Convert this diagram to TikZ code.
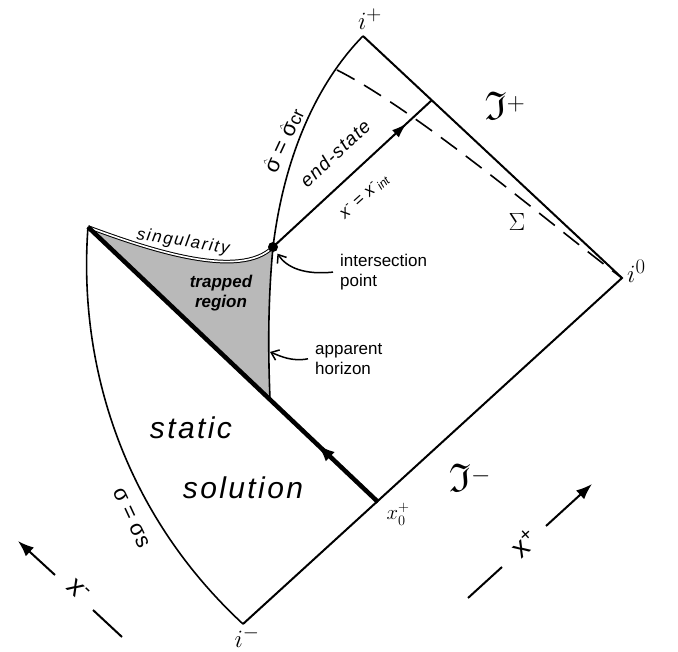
\documentclass[tikz,border=0pt]{standalone}
\usepackage{amsmath,amssymb}
\usepackage{fontspec}
\setmainfont{Liberation Sans}
\usetikzlibrary{arrows.meta, decorations.markings}

\begin{document}
\begin{tikzpicture}[x=1pt, y=-1pt,
    bd/.style={line width=2pt},
    crv/.style={line width=1.6pt},
    lbl/.style={font=\fontsize{17}{20}\selectfont, align=left, inner sep=0pt},
    mth/.style={font=\fontsize{28}{30}\selectfont, inner sep=0pt},
    big/.style={font=\fontsize{30}{34}\selectfont\itshape\addfontfeature{LetterSpace=8}, inner sep=0pt},
    sig/.style={font=\fontsize{22}{26}\selectfont, inner sep=0pt},
    ptr/.style={-{Straight Barb[length=7pt,width=11pt]}, line width=1.5pt},
    axr/.style={-{Latex[length=16pt,width=12pt]}, line width=2pt},
    >=Latex
]
\useasboundingbox (0,0) rectangle (678,652);

% corners of the diagram
\coordinate (ip) at (363,36);
\coordinate (io) at (622,278);
\coordinate (im) at (243,624);
\coordinate (xo) at (378,502);
\coordinate (tip) at (88,227);
\coordinate (int) at (273,247);
\coordinate (hz) at (270,399);
\coordinate (hzm) at (270,352);
\coordinate (xe) at (432,100);
\coordinate (sg) at (337,70);

% trapped region
\fill[gray!55] (tip) .. controls (150,250) and (240,280) .. (int)
    .. controls (268,300) and (268,350) .. (hz) -- cycle;

% boundaries
\draw[bd, line join=miter] (ip) -- (io) -- (im);
\draw[crv] (tip) .. controls (78,360) and (120,510) .. (im);
\draw[crv] (int) .. controls (285,150) and (320,80) .. (ip);
\draw[crv] (int) .. controls (268,300) and (268,350) .. (hz);
\draw[line width=1pt, double, double distance=1.6pt] (tip) .. controls (150,250) and (240,280) .. (int);
\draw[line width=4.5pt, postaction={decorate},
    decoration={markings, mark=at position 0.21 with {\arrow{Latex[length=18pt,width=13pt]}}}] (xo) -- (tip);
\draw[bd, postaction={decorate},
    decoration={markings, mark=at position 0.84 with {\arrow{Latex[length=15pt,width=10pt]}}}] (int) -- (xe);
\fill (int) circle (5pt);

% Sigma surface
\draw[crv, dash pattern=on 20pt off 11pt] (sg) .. controls (420,112) and (560,232) .. (io);

% corner labels
\node[mth] (lip) at (370,19) {$i^+$};
\node[mth, anchor=west] (lio) at (627,271) {$i^0$};
\node[mth] (lim) at (247,637) {$i^-$};
\node[font=\fontsize{21}{24}\selectfont, inner sep=0pt] (lxo) at (398,514) {$x_0^+$};
\node[font=\fontsize{40}{44}\selectfont, inner sep=0pt] (scp) at (505,106) {$\mathfrak{I}^+$};
\node[font=\fontsize{40}{44}\selectfont, inner sep=0pt] (scm) at (470,478) {$\mathfrak{I}^-$};
\node[font=\fontsize{32}{36}\selectfont, inner sep=0pt] (lsg) at (517,222) {$\Sigma$};

% region labels
\node[lbl, font=\fontsize{17}{20}\selectfont\itshape\addfontfeature{LetterSpace=10}, rotate=-9] (sing) at (183,242) {singularity};
\node[lbl, font=\fontsize{17}{20}\selectfont\bfseries\itshape, align=center] (trap) at (221,293) {trapped\\region};
\node[lbl, anchor=north west] (intl) at (340,254) {intersection\\point};
\node[lbl, anchor=north west] (appl) at (315,343) {apparent\\horizon};
\node[big] (stat) at (191,428) {static};
\node[big] (sol) at (243,488) {solution};
\node[sig, rotate=-65] (sgs) at (131,518) {σ = σs};
\node[sig, rotate=65] (sgc) at (283,140) {$\hat{\text{σ}}$ = $\hat{\text{σ}}${\fontsize{18}{20}\selectfont cr}};
\node[lbl, font=\fontsize{19}{22}\selectfont\itshape\addfontfeature{LetterSpace=6}, rotate=43] (es) at (335,153) {end-state};
\node[lbl, rotate=42] (xint) at (365,197) {\textit{x}\textsuperscript{-} = \textit{x}\textsuperscript{-}\textsubscript{\textit{int}}};

% pointers
\draw[ptr, shorten >=8pt] ([xshift=-7pt]intl.west) .. controls (305,275) and (287,268) .. (int);
\draw[ptr] ([xshift=-7pt]appl.west) .. controls (292,362) and (280,356) .. (hzm);

% null coordinates
\coordinate (pa) at (468,598);
\coordinate (pb) at (502,567);
\coordinate (pc) at (546,526);
\coordinate (pd) at (592,484);
\draw[bd] (pa) -- (pb);
\draw[axr] (pc) -- (pd);
\node[font=\fontsize{28}{32}\selectfont, inner sep=0pt, rotate=42] (xp) at (524,543) {x\textsuperscript{+}};
\coordinate (ma) at (122,637);
\coordinate (mb) at (93,610);
\coordinate (mc) at (55,575);
\coordinate (md) at (18,541);
\draw[bd] (ma) -- (mb);
\draw[axr] (mc) -- (md);
\node[font=\fontsize{28}{32}\selectfont, inner sep=0pt, rotate=-43] (xm) at (78,590) {x\textsuperscript{-}};

\end{tikzpicture}
\end{document}
